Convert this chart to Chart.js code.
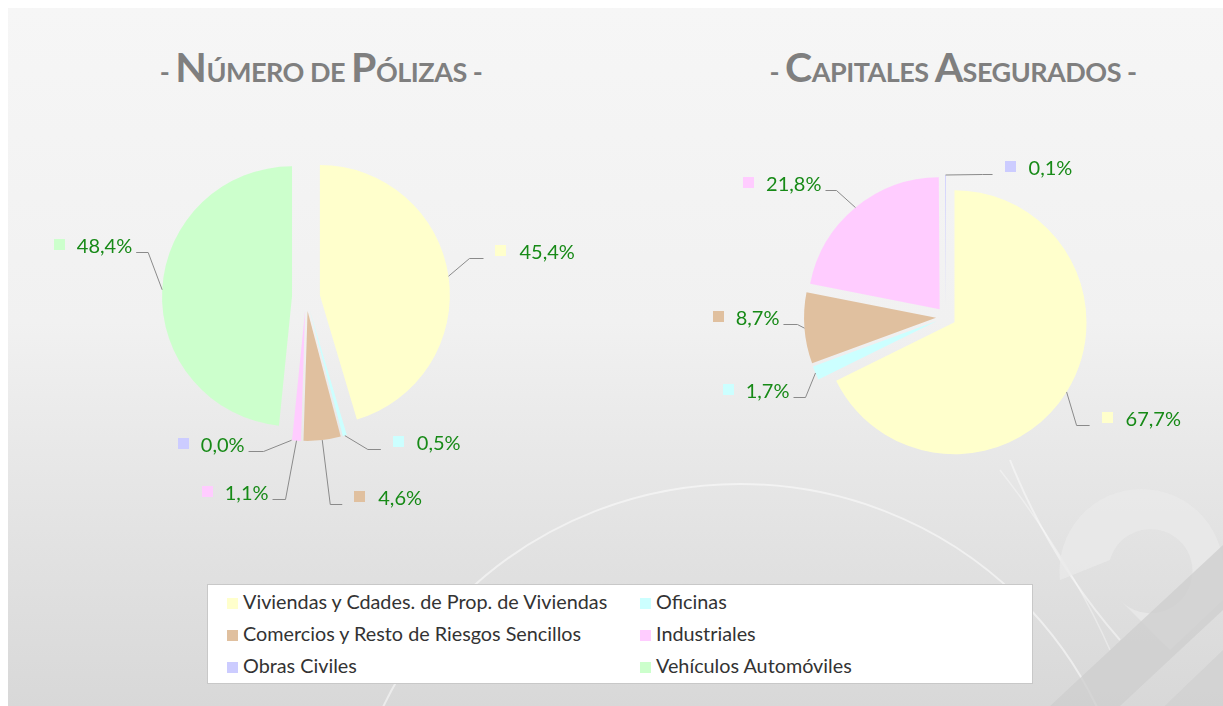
<!DOCTYPE html>
<html lang="es">
<head>
<meta charset="UTF-8">
<title>Número de Pólizas - Capitales Asegurados</title>
<script src="https://cdn.jsdelivr.net/npm/chart.js"></script>
<style>
    html, body { margin: 0; padding: 0; }
    body {
        width: 1223px; height: 706px; position: relative; overflow: hidden;
        background: #fff; font-family: Lato, "Open Sans", sans-serif;
    }
    .fondo {
        position: absolute; left: 8px; top: 8px; right: 0; bottom: 0;
        background: linear-gradient(to bottom, #f6f6f6 0%, #f1f1f1 45%, #e5e5e5 70%, #d8d8d8 100%);
        overflow: hidden;
    }
    .fondo svg { position: absolute; left: -8px; top: -8px; }
    .titulo {
        position: absolute; top: 46px; color: #7f7f7f; font-weight: bold;
        white-space: nowrap; transform: translateX(-50%); line-height: 42px;
        letter-spacing: -0.5px;
    }
    .titulo .g { font-size: 41px; }
    .titulo .p { font-size: 27px; text-transform: uppercase; }
    .titulo .r { font-size: 27px; }
    #polizas { position: absolute; left: 0; top: 0; }
    #capitales { position: absolute; left: 680px; top: 0; }
    .leyenda {
        position: absolute; left: 207px; top: 584px; width: 826px; height: 100px;
        background: #fff; border: 1px solid #c8c8c8; box-sizing: border-box;
    }
    .leyenda .item {
        position: absolute; font-size: 19.8px; color: #333; white-space: nowrap;
        line-height: 20px;
    }
    .leyenda .item i {
        display: inline-block; width: 11px; height: 11px; margin-right: 5px;
        vertical-align: 0px;
    }
</style>
</head>
<body>

<div class="fondo">
    <svg width="1223" height="706">
        <ellipse cx="740" cy="874" rx="395" ry="390" fill="none" stroke="#ffffff" stroke-opacity="0.5" stroke-width="2"/>
        <path d="M1010,460 Q1050,560 1120,640" fill="none" stroke="#ffffff" stroke-opacity="0.45" stroke-width="2"/>
        <path d="M1000,470 Q1070,560 1110,650" fill="none" stroke="#ffffff" stroke-opacity="0.35" stroke-width="1.5"/>
        <path d="M1060,580 A82,82 0 1,1 1223,580 L1223,600 L1170,650 L1120,600 A42,42 0 1,0 1110,560 Z" fill="#eaeaea" opacity="0.75"/>
        <path d="M1035,720 L1223,545 L1223,610 L1105,720 Z" fill="#cdcdcd" opacity="0.75"/>
        <path d="M1150,720 L1223,650 L1223,706 Z" fill="#d0d0d0" opacity="0.75"/>
    </svg>
</div>

<div class="titulo" style="left:321px"><span class="r">- </span><span class="g">N</span><span class="p">úmero de </span><span class="g">P</span><span class="p">ólizas</span><span class="r"> -</span></div>
<div class="titulo" style="left:953px"><span class="r">- </span><span class="g">C</span><span class="p">apitales </span><span class="g">A</span><span class="p">segurados</span><span class="r"> -</span></div>

<canvas id="polizas" width="612" height="594"></canvas>
<canvas id="capitales" width="532" height="634"></canvas>

<div class="leyenda" id="leyenda"></div>

<script>
    const categorias = [
        'Viviendas y Cdades. de Prop. de Viviendas',
        'Oficinas',
        'Comercios y Resto de Riesgos Sencillos',
        'Industriales',
        'Obras Civiles',
        'Vehículos Automóviles'
    ];
    const polizas = [45.4, 0.5, 4.6, 1.1, 0.0, 48.4];
    const capitales = [67.7, 1.7, 8.7, 21.8, 0.1, 0.0];

    const colores = ['#ffffcc', '#ccffff', '#e0c09f', '#ffccff', '#ccccff', '#ccffcc'];

    // guias de las etiquetas: [dx, dy] hasta el codo, luego tramo horizontal
    const guiasPolizas = [[21, -18, 14], [23, 13, 13], [8, 64, 12], [-11, 58, -13], [-28, 11, -15], [-14, -38, -12]];
    const guiasCapitales = [[10, 33, 13], [-10, 24, -12], [-7, -4, -14], [-19, -18, -11], [37, -1, 10], null];

    // porciones separadas del centro
    const explotar = {
        id: 'explotar',
        beforeDatasetsDraw(chart, args, opts) {
            const ctx = chart.ctx;
            chart.getDatasetMeta(0).data.forEach(arc => {
                const mid = (arc.startAngle + arc.endAngle) / 2;
                ctx.save();
                ctx.translate(Math.cos(mid) * opts.distancia, Math.sin(mid) * opts.distancia);
                arc.draw(ctx);
                ctx.restore();
            });
            return false;
        }
    };

    const etiquetas = {
        id: 'etiquetas',
        afterDraw(chart, args, opts) {
            const ctx = chart.ctx;
            const valores = chart.data.datasets[0].data;
            const d = chart.options.plugins.explotar.distancia;
            chart.getDatasetMeta(0).data.forEach((arc, i) => {
                const g = opts.guias[i];
                if (!g) return;
                const mid = (arc.startAngle + arc.endAngle) / 2;
                const r = arc.outerRadius + d;
                const x0 = arc.x + Math.cos(mid) * r;
                const y0 = arc.y + Math.sin(mid) * r;
                const x1 = x0 + g[0];
                const y1 = Math.round(y0 + g[1]) + 0.5;
                const x2 = x1 + g[2];
                ctx.save();
                ctx.strokeStyle = '#8a8a8a';
                ctx.lineWidth = 1;
                ctx.beginPath();
                ctx.moveTo(x0, y0);
                ctx.lineTo(x1, y1);
                ctx.lineTo(x2, y1);
                ctx.stroke();

                const texto = valores[i].toFixed(1).replace('.', ',') + '%';
                ctx.font = '20px Lato';
                const w = ctx.measureText(texto).width;
                let mx, tx;
                if (g[2] >= 0) { mx = x2 + 12; tx = mx + 24; }
                else { tx = x2 - 4 - w; mx = tx - 23; }
                ctx.fillStyle = colores[i];
                ctx.fillRect(Math.round(mx), Math.round(y1 - 14), 11, 11);
                ctx.fillStyle = '#178a17';
                ctx.textBaseline = 'alphabetic';
                ctx.fillText(texto, tx, y1);
                ctx.restore();
            });
        }
    };

    function crearTarta(id, valores, radio, distancia, guias) {
        return new Chart(document.getElementById(id), {
            type: 'pie',
            data: {
                labels: categorias,
                datasets: [{
                    data: valores,
                    backgroundColor: colores,
                    borderWidth: 0
                }]
            },
            options: {
                responsive: false,
                animation: false,
                radius: radio,
                layout: { padding: 0 },
                plugins: {
                    legend: { display: false },
                    tooltip: { enabled: false },
                    explotar: { distancia: distancia },
                    etiquetas: { guias: guias }
                }
            },
            plugins: [explotar, etiquetas]
        });
    }

    crearTarta('polizas', polizas, 130, 14, guiasPolizas);
    crearTarta('capitales', capitales, 132, 10, guiasCapitales);

    // leyenda comun
    const leyenda = document.getElementById('leyenda');
    categorias.forEach((c, i) => {
        const el = document.createElement('div');
        el.className = 'item';
        el.style.left = (i % 2 === 0 ? 19 : 432) + 'px';
        el.style.top = (6 + Math.floor(i / 2) * 32) + 'px';
        el.innerHTML = '<i style="background:' + colores[i] + '"></i>' + c;
        leyenda.appendChild(el);
    });
</script>

</body>
</html>
